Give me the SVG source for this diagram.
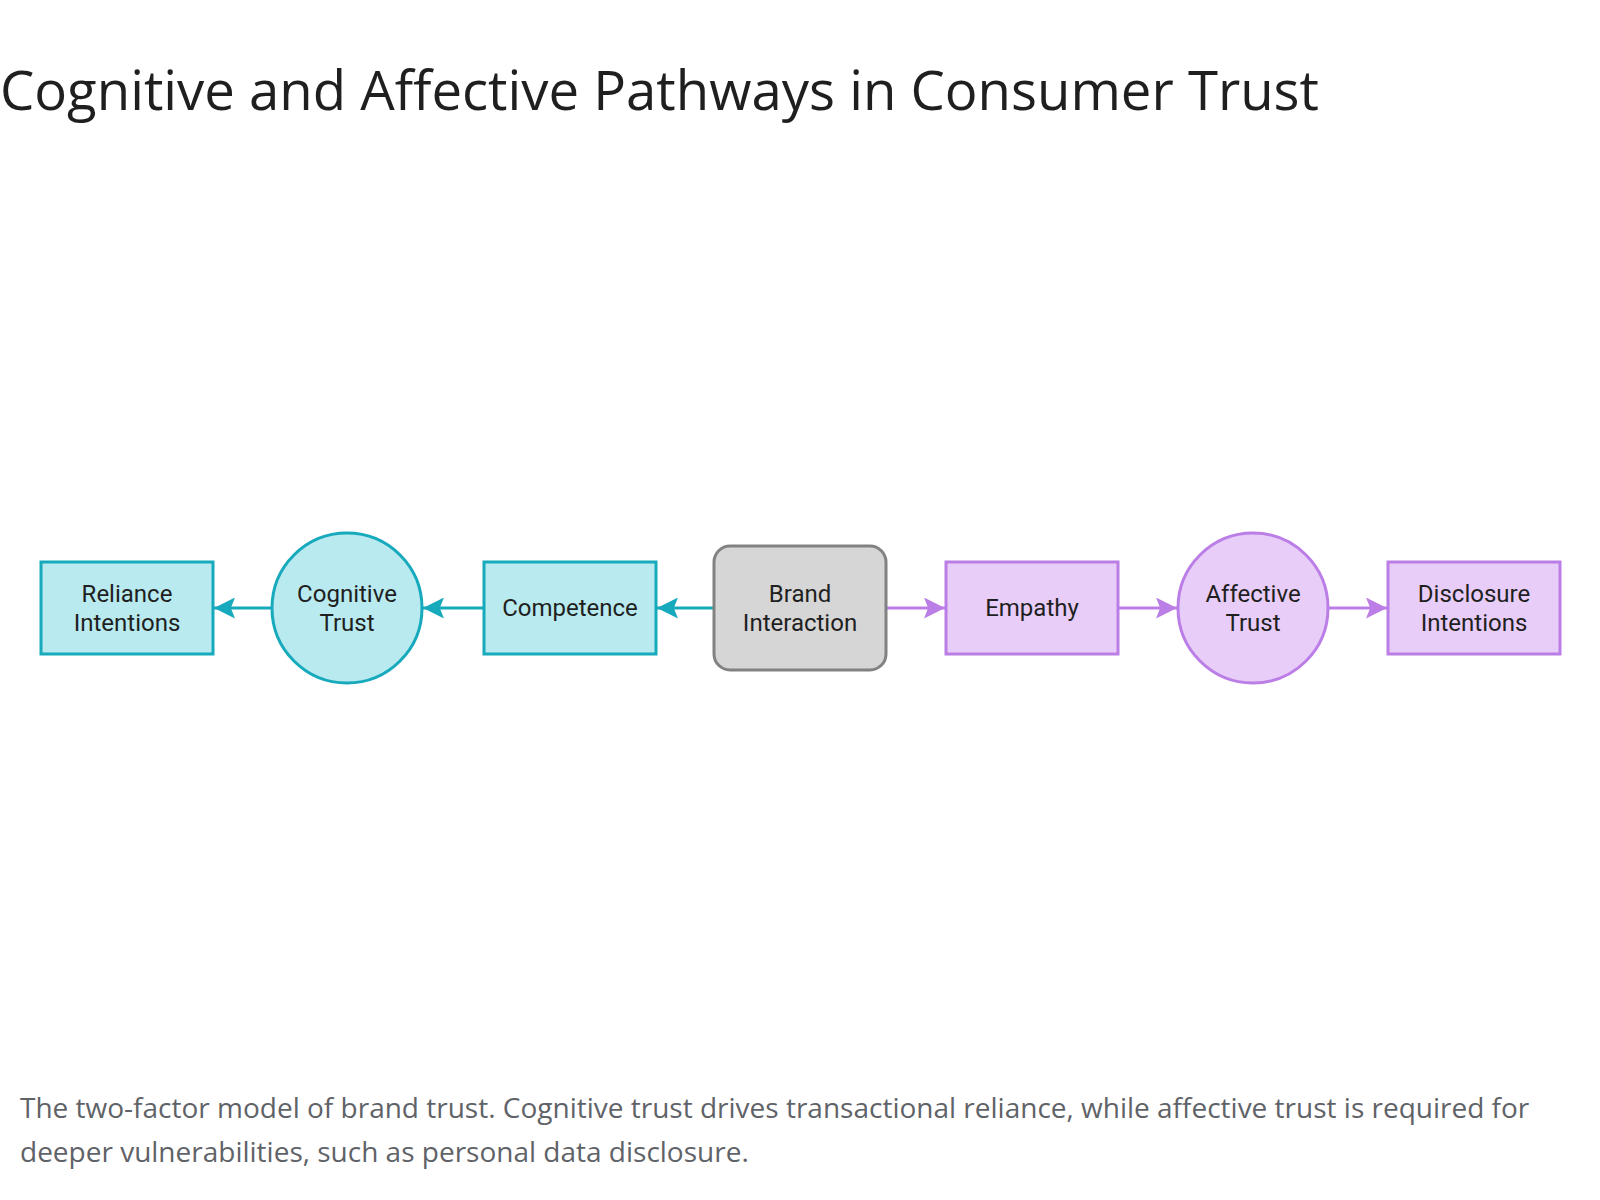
<svg xmlns="http://www.w3.org/2000/svg" width="1600" height="1200" viewBox="0 0 1600 1200">
<style>
.bg{fill:#ffffff}
.title{font-family:"Open Sans","Liberation Sans",sans-serif;font-size:54.5px;fill:#1f1f1f}
.cap{font-family:"Open Sans","Liberation Sans",sans-serif;font-size:28px;fill:#5f6368}
.lbl{font-family:Roboto,"Liberation Sans",sans-serif;font-size:24px;fill:#1f1f1f;text-anchor:middle}
.cog{fill:#b8eaef;stroke:#17a9bc;stroke-width:3}
.aff{fill:#e7cdf7;stroke:#bb7ee6;stroke-width:3}
.neu{fill:#d6d6d6;stroke:#828282;stroke-width:3}
.ec{stroke:#17a9bc;stroke-width:3;fill:none}
.ea{stroke:#bb7ee6;stroke-width:3;fill:none}
</style>
<defs>
<marker id="mc" viewBox="0 0 10 10" refX="10" refY="5" markerWidth="7" markerHeight="7" orient="auto" markerUnits="strokeWidth">
<path d="M0,0 L10,5 L0,10 L2,5 z" fill="#17a9bc"/>
</marker>
<marker id="ma" viewBox="0 0 10 10" refX="10" refY="5" markerWidth="7" markerHeight="7" orient="auto" markerUnits="strokeWidth">
<path d="M0,0 L10,5 L0,10 L2,5 z" fill="#bb7ee6"/>
</marker>
</defs>
<rect class="bg" x="0" y="0" width="1600" height="1200"/>
<text class="title" x="0" y="110">Cognitive and Affective Pathways in Consumer Trust</text>
<g id="connectors">
<line class="ec" x1="714" y1="608" x2="657" y2="608" marker-end="url(#mc)"/>
<line class="ec" x1="484" y1="608" x2="423" y2="608" marker-end="url(#mc)"/>
<line class="ec" x1="272" y1="608" x2="214" y2="608" marker-end="url(#mc)"/>
<line class="ea" x1="886" y1="608" x2="945" y2="608" marker-end="url(#ma)"/>
<line class="ea" x1="1118" y1="608" x2="1177" y2="608" marker-end="url(#ma)"/>
<line class="ea" x1="1328" y1="608" x2="1387" y2="608" marker-end="url(#ma)"/>
</g>
<g id="reliance">
<rect class="cog" x="41" y="562" width="172" height="92"/>
<text class="lbl" x="127" y="602">Reliance</text>
<text class="lbl" x="127" y="630.5">Intentions</text>
</g>
<g id="cognitive-trust">
<circle class="cog" cx="347" cy="608" r="75"/>
<text class="lbl" x="347" y="602">Cognitive</text>
<text class="lbl" x="347" y="630.5">Trust</text>
</g>
<g id="competence">
<rect class="cog" x="484" y="562" width="172" height="92"/>
<text class="lbl" x="570" y="616">Competence</text>
</g>
<g id="brand-interaction">
<rect class="neu" x="714" y="546" width="172" height="124" rx="16" ry="16"/>
<text class="lbl" x="800" y="602">Brand</text>
<text class="lbl" x="800" y="630.5">Interaction</text>
</g>
<g id="empathy">
<rect class="aff" x="946" y="562" width="172" height="92"/>
<text class="lbl" x="1032" y="616">Empathy</text>
</g>
<g id="affective-trust">
<circle class="aff" cx="1253" cy="608" r="75"/>
<text class="lbl" x="1253" y="602">Affective</text>
<text class="lbl" x="1253" y="630.5">Trust</text>
</g>
<g id="disclosure">
<rect class="aff" x="1388" y="562" width="172" height="92"/>
<text class="lbl" x="1474" y="602">Disclosure</text>
<text class="lbl" x="1474" y="630.5">Intentions</text>
</g>
<text class="cap" x="20" y="1118">The two-factor model of brand trust. Cognitive trust drives transactional reliance, while affective trust is required for</text>
<text class="cap" x="20" y="1162">deeper vulnerabilities, such as personal data disclosure.</text>
</svg>
